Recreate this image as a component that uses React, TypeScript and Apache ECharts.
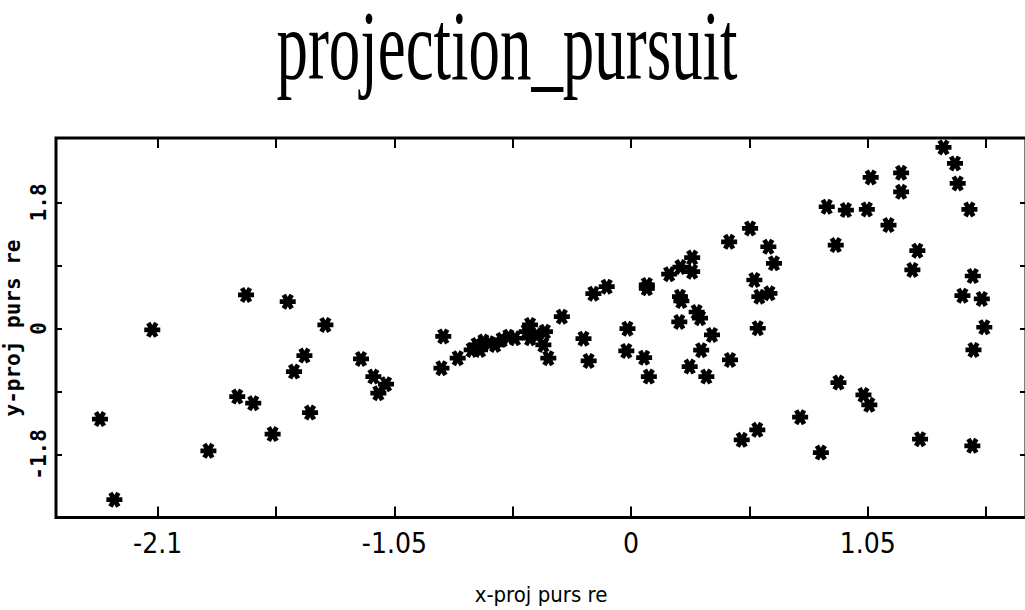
import React, { useEffect, useRef } from "react";
import * as echarts from "echarts";

const titleText = "projection_pursuit";
const xAxisName = "x-proj purs re";
const yAxisName = "y-proj purs re";

const xTickValues = [-2.1, -1.575, -1.05, -0.525, 0, 0.525, 1.05, 1.575];
const xLabelValues = [-2.1, -1.05, 0, 1.05];
const yTickValues = [-1.8, -0.9, 0, 0.9, 1.8];
const yLabelValues = [-1.8, 0, 1.8];

const xValues = [
  -2.356, -2.292, -2.124, -1.875, -1.747, -1.708, -1.676, -1.59, -1.523, -1.495,
  -1.449, -1.424, -1.356, -1.198, -1.143, -1.121, -1.087, -0.833, -0.841, -0.769,
  -0.707, -0.685, -0.655, -0.629, -0.67, -0.603, -0.574, -0.544, -0.515, -0.463,
  -0.448, -0.448, -0.418, -0.382, -0.389, -0.367, -0.307, -0.211, -0.188, -0.167,
  -0.108, -0.016, -0.021, 0.058, 0.079, 0.07, 0.07, 0.169, 0.219, 0.271,
  0.271, 0.217, 0.223, 0.214, 0.291, 0.306, 0.359, 0.311, 0.26, 0.334,
  0.435, 0.439, 0.528, 0.609, 0.634, 0.547, 0.569, 0.614, 0.562, 0.491,
  0.56, 0.75, 0.842, 0.868, 0.908, 0.92, 0.953, 1.046, 1.063, 1.031,
  1.057, 1.142, 1.198, 1.198, 1.27, 1.248, 1.282, 1.386, 1.437, 1.449,
  1.501, 1.516, 1.47, 1.556, 1.567, 1.519, 1.514,
];
const yValues = [
  -1.295, -2.446, -0.02, -1.748, -0.973, 0.478, -1.067, -1.509, 0.382, -0.616,
  -0.388, -1.201, 0.05, -0.435, -0.688, -0.924, -0.796, -0.114, -0.568, -0.425,
  -0.307, -0.235, -0.188, -0.211, -0.307, -0.235, -0.164, -0.117, -0.14, -0.046,
  0.05, -0.14, -0.093, -0.046, -0.235, -0.425, 0.168, -0.146, -0.464, 0.496,
  0.596, -0.003, -0.321, -0.417, -0.688, 0.621, 0.573, 0.775, 0.877, 1.013,
  0.81, 0.454, 0.392, 0.093, 0.235, 0.146, -0.093, -0.311, -0.545, -0.688,
  1.238, -0.449, 1.429, 1.167, 0.93, 0.692, 0.454, 0.502, 0.003, -1.591,
  -1.448, -1.267, -1.772, 1.738, 1.191, -0.773, 1.69, 1.7, 2.157, -0.949,
  -1.091, 1.476, 2.223, 1.951, 1.11, 0.835, -1.581, 2.585, 2.357, 2.071,
  1.7, 0.749, 0.468, 0.421, 0.017, -0.307, -1.676,
];

// six-armed heavy asterisk
const STAR =
  "path://M-1,-0.3L1,-0.3L1,0.3L-1,0.3Z" +
  "M-0.24,-1.016L0.76,0.716L0.24,1.016L-0.76,-0.716Z" +
  "M-0.76,0.716L0.24,-1.016L0.76,-0.716L-0.24,1.016Z";

export default function App() {
  const ref = useRef<HTMLDivElement>(null);
  useEffect(() => {
    if (!ref.current) return;
    const chart = echarts.init(ref.current, undefined, { renderer: "svg" });
    const points = xValues.map((x, i) => [x, yValues[i]]);
    const narrow = "'Liberation Sans Narrow', 'DejaVu Sans Condensed', 'Roboto Condensed', sans-serif";
    const mono = "'DejaVu Sans Mono', 'Liberation Mono', monospace";
    const tickStyle = { color: "#000", width: 2 };
    chart.setOption({
      animation: false,
      backgroundColor: "#fff",
      graphic: [
        {
          type: "text",
          x: 507,
          y: -5,
          scaleX: 0.629,
          scaleY: 1,
          style: {
            text: titleText,
            font: "100px 'Liberation Serif', 'Times New Roman', serif",
            fill: "#000",
            textAlign: "center",
            textVerticalAlign: "top",
          },
        },
        {
          type: "text",
          x: 13,
          y: 328,
          rotation: Math.PI / 2,
          style: {
            text: yAxisName,
            font: "bold 21px 'DejaVu Sans Mono', 'Liberation Mono', monospace",
            fill: "#000",
            textAlign: "center",
            textVerticalAlign: "middle",
          },
        },
      ],
      grid: {
        left: 56,
        top: 138,
        width: 970,
        height: 379.5,
        outerBoundsMode: "none",
        containLabel: false,
        show: true,
        borderColor: "#000",
        borderWidth: 3,
        backgroundColor: "transparent",
      },
      xAxis: [
        {
          type: "value",
          position: "bottom",
          min: -2.551,
          max: 1.752,
          name: xAxisName,
          nameLocation: "middle",
          nameGap: 66,
          nameTextStyle: { fontFamily: narrow, fontSize: 22, color: "#000" },
          axisLine: { show: false, onZero: false },
          splitLine: { show: false },
          axisTick: {
            show: true,
            inside: true,
            length: 11,
            customValues: xTickValues,
            lineStyle: tickStyle,
          },
          axisLabel: {
            show: true,
            customValues: xLabelValues,
            fontFamily: narrow,
            fontSize: 28,
            color: "#000",
            margin: 12,
          },
        },
        {
          type: "value",
          position: "top",
          min: -2.551,
          max: 1.752,
          axisLine: { show: false, onZero: false },
          splitLine: { show: false },
          axisLabel: { show: false },
          axisTick: {
            show: true,
            inside: true,
            length: 10,
            customValues: xTickValues,
            lineStyle: tickStyle,
          },
        },
      ],
      yAxis: [
        {
          type: "value",
          position: "left",
          min: -2.7,
          max: 2.72,
          axisLine: { show: false, onZero: false },
          splitLine: { show: false },
          axisTick: {
            show: true,
            inside: true,
            length: 6,
            customValues: yTickValues,
            lineStyle: tickStyle,
          },
          axisLabel: {
            show: true,
            customValues: yLabelValues,
            rotate: 90,
            fontFamily: mono,
            fontWeight: "bold",
            fontSize: 21,
            color: "#000",
            margin: 7,
          },
        },
        {
          type: "value",
          position: "right",
          min: -2.7,
          max: 2.72,
          axisLine: { show: false, onZero: false },
          splitLine: { show: false },
          axisLabel: { show: false },
          axisTick: {
            show: true,
            inside: true,
            length: 6,
            customValues: yTickValues,
            lineStyle: tickStyle,
          },
        },
      ],
      series: [
        {
          type: "scatter",
          xAxisIndex: 0,
          yAxisIndex: 0,
          data: points,
          symbol: STAR,
          symbolSize: 16,
          itemStyle: { color: "#000", opacity: 1 },
        },
      ],
    });
    return () => chart.dispose();
  }, []);
  return (
    <div
      ref={ref}
      style={{ position: "absolute", left: 0, top: 0, width: 1025, height: 610, background: "#fff" }}
    />
  );
}
